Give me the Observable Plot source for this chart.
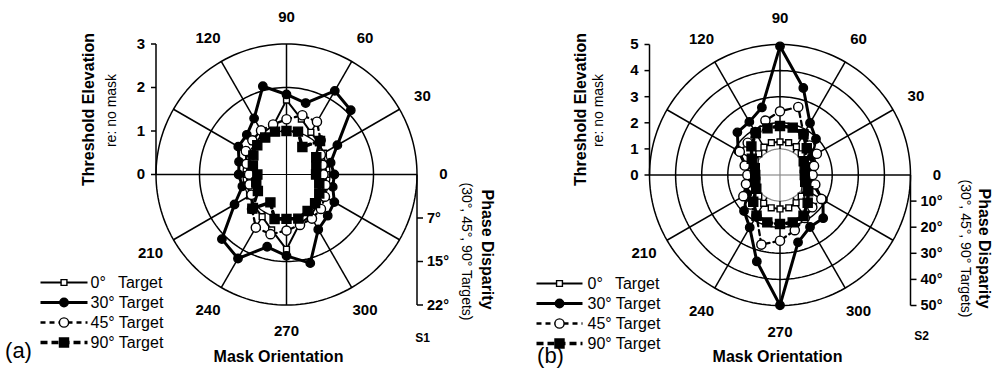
<!DOCTYPE html>
<html><head><meta charset="utf-8">
<script src="https://cdn.jsdelivr.net/npm/d3@7"></script>
<script src="https://cdn.jsdelivr.net/npm/@observablehq/plot@0.6"></script>
<style>
html,body{margin:0;padding:0;background:#fff;}
#wrap{position:relative;width:995px;height:372px;overflow:hidden;}
.panel{position:absolute;top:0;}
</style></head><body><div id="wrap"></div>
<script>
// ---------- data ----------
const maskOrientation = [0,15,30,45,60,75,90,105,120,135,150,165,180,195,210,225,240,255,270,285,300,315,330,345];
const legendLabels = ["0°\u2002 Target","30° Target","45° Target","90° Target"];

// S1 (panel a): threshold elevation re: no mask
const s1_target0  = [0.92,0.92,0.98,1.04,1.12,1.32,1.71,1.17,1.10,1.00,0.95,0.92, 0.92,0.92,0.98,1.04,1.12,1.32,1.72,1.17,1.10,1.00,0.95,0.92];
const s1_target30 = [1.10,1.05,1.35,2.09,2.22,1.70,1.84,2.10,1.49,1.29,1.28,1.13, 1.10,1.05,1.38,2.10,2.23,1.72,1.87,2.11,1.46,1.34,1.27,1.10];
const s1_target45 = [0.85,0.86,0.91,1.11,1.40,1.41,1.27,1.19,1.17,1.11,1.08,0.95, 0.86,0.88,0.93,1.12,1.41,1.42,1.29,1.20,1.17,1.12,1.02,0.93];
const s1_target90 = [0.68,0.71,0.79,1.09,0.73,1.02,1.00,1.02,0.98,0.95,0.88,0.80, 0.67,0.72,0.76,1.11,0.74,1.06,1.02,1.05,0.97,0.93,0.87,0.78];

// S2 (panel b)
const s2_target0  = [0.95,1.00,1.10,1.15,1.25,1.28,1.27,1.28,1.23,1.15,1.10,1.00, 0.95,1.00,1.10,1.15,1.25,1.30,1.30,1.30,1.23,1.15,1.10,1.00];
const s2_target30 = [1.17,1.25,1.41,1.95,2.30,3.45,4.93,2.68,2.35,2.31,1.85,1.35, 1.20,1.28,1.45,1.95,2.32,3.43,4.99,2.67,2.30,2.34,1.90,1.30];
const s2_target45 = [1.25,1.35,1.63,1.60,1.81,2.70,2.44,2.16,1.90,1.75,1.78,1.40, 1.25,1.35,1.62,1.60,1.80,2.76,2.52,2.19,1.90,1.75,1.83,1.40];
const s2_target90 = [0.95,0.98,1.05,1.45,1.80,1.88,1.88,1.85,1.85,1.55,1.25,1.00, 0.95,0.98,1.05,1.45,1.80,1.88,1.88,1.88,1.80,1.50,1.25,1.00];

// axes / grid
const s1_rings = [1,2,3];
const s2_rings = [1,2,3,4,5];
const s1_elevTicks = [0,1,2,3];
const s2_elevTicks = [0,1,2,3,4,5];
const s1_phaseTicks = [7.5,15,22.5];
const s1_phaseLabels = ["7°","15°","22°"];
const s2_phaseTicks = [10,20,30,40,50];
const s2_phaseLabels = ["10°","20°","30°","40°","50°"];
const angleLabels = [0,30,60,90,120,210,240,270,300];
const spokeAngles = [30,60,120,150,210,240,300,330];
const crossAngles = [0,90,180,270];

// ---------- drawing ----------
const FONT = "Liberation Sans, Arial, Helvetica, sans-serif";
const R = 130.5, H = 372;
const styles = [
  {symbol:"square", fill:"white", r:3.3, sw:2.0, dash:null},
  {symbol:"circle", fill:"black", r:4.2, sw:3.0, dash:null},
  {symbol:"circle", fill:"white", r:4.6, sw:2.3, dash:"5,4"},
  {symbol:"square", fill:"black", r:5.1, sw:3.5, dash:"7,4"}
];

function panel(cfg){
  const {W, cx, cy, maxVal, rings, elevTicks, phaseMax, phaseTicks, phaseLabels, series, innerGray, texts, legendRows, legendX} = cfg;
  const X = px => (px - cx)/R;
  const Y = py => (cy - py)/R;
  const pol = (deg, v) => ({x: v*Math.cos(deg*Math.PI/180), y: v*Math.sin(deg*Math.PI/180)});
  const r1 = rings[0]/maxVal;
  const ringPts = rings.flatMap(v => d3.range(0, 361, 2).map(a => ({ring:v, inner: v===rings[0], ...pol(a, v/maxVal)})));
  const spokes = spokeAngles.map(a => ({a, p1: pol(a, r1), p2: pol(a, 1)}));
  const crossOut = crossAngles.map(a => ({a, p1: pol(a, r1), p2: pol(a, 1)}));
  const crossIn = crossAngles.map(a => ({a, p1: pol(a, 0), p2: pol(a, r1)}));
  const gridCol = "#000", innerCol = innerGray ? "#8a8a8a" : "#000";
  const GW = 1.5;
  const tx = {fontFamily: FONT};

  const marks = [
    Plot.line(ringPts.filter(d=>!d.inner), {x:"x", y:"y", z:"ring", stroke:gridCol, strokeWidth:GW}),
    Plot.line(ringPts.filter(d=>d.inner), {x:"x", y:"y", z:"ring", stroke:innerCol, strokeWidth:1.3}),
    Plot.link(spokes, {x1:d=>d.p1.x, y1:d=>d.p1.y, x2:d=>d.p2.x, y2:d=>d.p2.y, stroke:gridCol, strokeWidth:GW}),
    Plot.link(crossOut, {x1:d=>d.p1.x, y1:d=>d.p1.y, x2:d=>d.p2.x, y2:d=>d.p2.y, stroke:gridCol, strokeWidth:GW}),
    Plot.link(crossIn, {x1:d=>d.p1.x, y1:d=>d.p1.y, x2:d=>d.p2.x, y2:d=>d.p2.y, stroke:innerCol, strokeWidth:1.2}),
    // left axis (threshold elevation)
    Plot.link([0], {x1:-1, y1:0, x2:-1, y2:d=>elevTicks[elevTicks.length-1]/maxVal, stroke:gridCol, strokeWidth:GW}),
    Plot.link(elevTicks, {x1:-1, y1:d=>d/maxVal, x2:-1-5/R, y2:d=>d/maxVal, stroke:gridCol, strokeWidth:GW}),
    Plot.text(elevTicks, {x:-1-11/R, y:d=>d/maxVal, text:d=>String(d), textAnchor:"end", fontSize:15, fontWeight:"bold", ...tx}),
    // right axis (phase disparity)
    Plot.link([0], {x1:1, y1:0, x2:1, y2:-1, stroke:gridCol, strokeWidth:GW}),
    Plot.link(phaseTicks, {x1:1, y1:d=>-d/phaseMax, x2:1+6/R, y2:d=>-d/phaseMax, stroke:gridCol, strokeWidth:GW}),
    Plot.text(phaseTicks, {x:1+10/R, y:d=>-d/phaseMax, text:(d,i)=>phaseLabels[i], textAnchor:"start", fontSize:14.5, fontWeight:"bold", ...tx}),
    // angle labels
    Plot.text(angleLabels, {x:d=>pol(d,157/R).x, y:d=>pol(d,157/R).y, text:d=>String(d), fontSize:15, fontWeight:"bold", ...tx}),
  ];

  // data series
  series.forEach((vals, si) => {
    const s = styles[si];
    const pts = vals.map((v,i) => ({...pol(maskOrientation[i], v/maxVal)}));
    marks.push(Plot.line(pts, {x:"x", y:"y", curve:"linear-closed", stroke:"black", strokeWidth:s.sw, strokeDasharray:s.dash}));
  });
  series.forEach((vals, si) => {
    const s = styles[si];
    const pts = vals.map((v,i) => ({...pol(maskOrientation[i], v/maxVal)}));
    marks.push(Plot.dot(pts, {x:"x", y:"y", symbol:s.symbol, r:s.r, fill:s.fill, stroke:"black", strokeWidth:1.4}));
  });

  // legend
  legendLabels.forEach((lab, i) => {
    const s = styles[i];
    const yy = Y(legendRows[i]);
    marks.push(Plot.link([lab], {x1:X(legendX[0]), y1:yy, x2:X(legendX[1]), y2:yy, stroke:"black", strokeWidth:s.sw, strokeDasharray:s.dash}));
    marks.push(Plot.dot([lab], {x:X((legendX[0]+legendX[1])/2), y:yy, symbol:s.symbol, r:s.r, fill:s.fill, stroke:"black", strokeWidth:1.4}));
    marks.push(Plot.text([lab], {x:X(legendX[2]), y:yy, text:d=>d, textAnchor:"start", fontSize:16, ...tx}));
  });

  // titles
  texts.forEach(t => {
    marks.push(Plot.text([t.s], {x:X(t.x), y:Y(t.y), text:d=>d, rotate:t.rot||0, fontSize:t.size, fontWeight:t.bold?"bold":"normal", ...tx}));
  });

  return Plot.plot({
    width: W, height: H,
    margin: 0,
    x: {type:"linear", domain:[-cx/R, (W-cx)/R], range:[0, W], axis:null},
    y: {type:"linear", domain:[-(H-cy)/R, cy/R], range:[H, 0], axis:null},
    style: {background:"white", fontFamily: FONT, overflow:"visible"},
    marks
  });
}

const wrap = document.getElementById("wrap");

const pa = panel({
  W: 497, cx: 286, cy: 174, maxVal: 3, rings: s1_rings, elevTicks: s1_elevTicks,
  phaseMax: 22.5, phaseTicks: s1_phaseTicks, phaseLabels: s1_phaseLabels,
  series: [s1_target0, s1_target30, s1_target45, s1_target90], innerGray: false,
  legendRows: [282, 302, 322, 342], legendX: [40, 87, 90],
  texts: [
    {s:"Threshold Elevation", x:88.5, y:109, rot:-90, size:16, bold:true},
    {s:"re: no mask", x:111, y:110, rot:-90, size:14, bold:false},
    {s:"Phase Disparity", x:487, y:249, rot:90, size:16, bold:true},
    {s:"(30°, 45°, 90° Targets)", x:466, y:251, rot:90, size:14, bold:false},
    {s:"S1", x:422, y:338, size:12, bold:true},
    {s:"Mask Orientation", x:278, y:356, size:16, bold:true},
    {s:"(a)", x:18, y:350, size:22, bold:false}
  ]
});
const pb = panel({
  W: 498, cx: 282.5, cy: 174.5, maxVal: 5, rings: s2_rings, elevTicks: s2_elevTicks,
  phaseMax: 50, phaseTicks: s2_phaseTicks, phaseLabels: s2_phaseLabels,
  series: [s2_target0, s2_target30, s2_target45, s2_target90], innerGray: true,
  legendRows: [283, 303, 323, 343], legendX: [39, 85, 90],
  texts: [
    {s:"Threshold Elevation", x:83.7, y:109, rot:-90, size:16, bold:true},
    {s:"re: no mask", x:101, y:110, rot:-90, size:14, bold:false},
    {s:"Phase Disparity", x:487, y:248, rot:90, size:16, bold:true},
    {s:"(30°, 45°, 90° Targets)", x:468, y:248, rot:90, size:14, bold:false},
    {s:"S2", x:424, y:336, size:12, bold:true},
    {s:"Mask Orientation", x:280, y:356, size:16, bold:true},
    {s:"(b)", x:53, y:355, size:22, bold:false}
  ]
});
pa.classList.add("panel"); pa.style.left = "0px";
pb.classList.add("panel"); pb.style.left = "497px";
wrap.appendChild(pa);
wrap.appendChild(pb);
</script></body></html>
